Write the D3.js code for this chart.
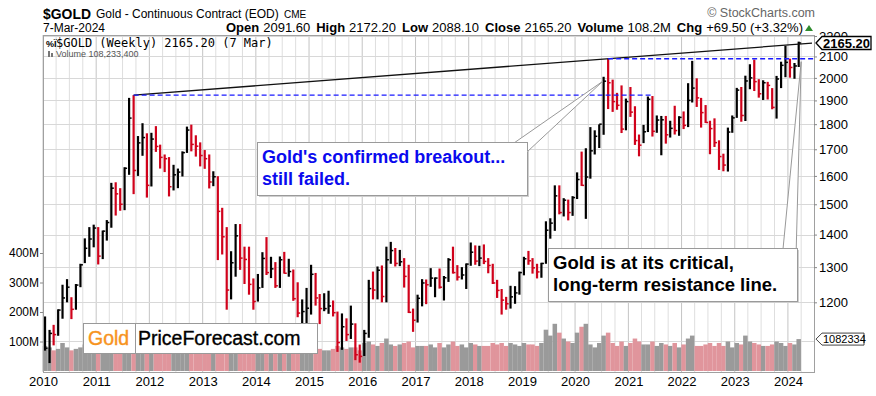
<!DOCTYPE html>
<html>
<head>
<meta charset="utf-8">
<script src="https://cdn.jsdelivr.net/npm/d3@7"></script>
<style>
  body { margin: 0; background: #fff; }
  svg text { font-family: "Liberation Sans", Arial, sans-serif; }
</style>
</head>
<body>
<svg id="chart" width="876" height="396"></svg>
<script>
// monthly bars, Jan 2010 .. Mar 2024 (gold continuous contract)
const firstMonth = [2010, 0];
const monthHigh = [
  1162,1127,1140,1181,1249,1265,1214,1251,1310,1388,1424,1432,
  1424,1413,1447,1575,1577,1556,1632,1911,1923,1752,1804,1763,
  1765,1792,1718,1680,1670,1641,1627,1692,1790,1798,1755,1727,
  1697,1680,1617,1599,1488,1424,1348,1434,1434,1362,1362,1267,
  1280,1345,1392,1331,1315,1332,1346,1325,1293,1256,1208,1240,
  1307,1283,1223,1225,1232,1205,1175,1170,1157,1191,1144,1090,
  1127,1263,1287,1302,1305,1362,1377,1358,1352,1327,1307,1183,
  1221,1265,1264,1297,1270,1296,1274,1327,1362,1306,1300,1311,
  1375,1366,1365,1369,1327,1310,1263,1237,1215,1246,1245,1287,
  1331,1349,1327,1310,1313,1443,1453,1566,1566,1521,1516,1528,
  1613,1691,1704,1788,1775,1799,2005,2089,1992,1933,1966,1908,
  1959,1875,1758,1797,1917,1919,1836,1834,1834,1814,1877,1833,
  1853,1976,2079,1998,1911,1880,1814,1824,1735,1683,1786,1836,
  1955,1959,2010,2063,2085,1994,1989,1982,1954,2009,2075,2152,
  2089,2069,2172
];
const monthLow = [
  1075,1045,1088,1112,1156,1200,1155,1180,1242,1312,1331,1360,
  1308,1324,1381,1422,1462,1478,1480,1604,1535,1600,1675,1523,
  1562,1690,1627,1614,1527,1548,1556,1598,1686,1692,1672,1635,
  1626,1555,1563,1321,1338,1180,1208,1272,1292,1251,1221,1180,
  1202,1240,1277,1268,1240,1240,1281,1272,1204,1160,1131,1142,
  1167,1191,1142,1176,1169,1162,1072,1077,1099,1104,1052,1046,
  1062,1107,1208,1208,1200,1200,1310,1302,1303,1241,1171,1122,
  1146,1189,1195,1243,1214,1238,1205,1257,1281,1261,1264,1237,
  1304,1307,1303,1309,1282,1251,1212,1167,1180,1183,1196,1221,
  1276,1307,1281,1267,1269,1310,1387,1412,1466,1459,1446,1461,
  1518,1564,1451,1590,1680,1705,1757,1863,1851,1860,1764,1775,
  1830,1717,1673,1724,1768,1750,1765,1677,1722,1746,1758,1753,
  1780,1788,1891,1872,1786,1805,1681,1709,1622,1617,1616,1765,
  1826,1810,1813,1949,1941,1912,1902,1904,1862,1823,1954,2003,
  2001,1996,2050
];
const monthClose = [
  1081,1118,1115,1179,1212,1242,1181,1248,1307,1357,1386,1421,
  1333,1411,1439,1556,1536,1500,1628,1825,1620,1725,1746,1566,
  1740,1711,1669,1664,1561,1604,1614,1687,1776,1719,1712,1676,
  1664,1578,1597,1476,1393,1234,1313,1396,1327,1323,1250,1202,
  1240,1326,1284,1295,1246,1322,1282,1287,1210,1171,1175,1184,
  1279,1212,1183,1183,1190,1172,1095,1135,1115,1142,1065,1061,
  1118,1238,1234,1291,1216,1322,1350,1311,1316,1273,1173,1152,
  1211,1254,1249,1268,1268,1242,1269,1322,1284,1271,1277,1309,
  1345,1318,1327,1317,1305,1254,1233,1206,1196,1215,1226,1284,
  1325,1319,1298,1286,1311,1414,1437,1529,1472,1514,1472,1523,
  1587,1566,1596,1694,1751,1800,1985,1978,1895,1879,1780,1895,
  1850,1734,1716,1769,1905,1771,1817,1818,1757,1783,1774,1828,
  1795,1900,1954,1911,1848,1807,1782,1726,1672,1640,1768,1826,
  1945,1836,1986,2000,1983,1929,1978,1966,1870,1995,2058,2072,
  2048,2055,2165.2
];
// average weekly volume in millions
const monthVolume = [
  85,80,70,75,95,80,70,75,80,90,95,70,
  85,75,75,80,90,75,80,110,105,85,80,75,
  80,75,75,70,80,80,70,75,85,80,80,75,
  85,80,80,130,110,120,100,95,90,90,85,80,
  85,85,90,75,70,80,75,65,75,85,85,75,
  85,80,75,70,70,75,85,80,75,80,80,70,
  95,100,90,85,95,110,90,85,90,95,100,80,
  85,85,85,90,80,95,80,90,100,85,90,80,
  95,90,85,85,85,95,90,95,85,95,90,85,
  95,90,90,85,95,140,120,160,130,110,100,95,
  130,150,160,90,80,95,120,130,95,85,100,85,
  95,110,100,90,90,100,85,95,90,85,95,80,
  90,110,120,85,85,90,95,85,95,85,100,80,
  95,90,120,100,95,90,85,85,90,100,95,85,
  95,90,108.2
];
const priceTicks = [1200,1300,1400,1500,1600,1700,1800,1900,2000,2100,2200];
const priceGrid = [1100,1200,1300,1400,1500,1600,1700,1800,1900,2000,2100,2200];
const volumeTicks = [100,200,300,400];

// resistance / breakout levels
const resistancePts = [{ date: new Date(2011, 8, 15), price: 1923 }, { date: new Date(2020, 7, 15), price: 2089 }];
const breakout2011 = { from: new Date(2011, 8, 15), to: new Date(2021, 5, 10), price: 1923 };
const breakout2020 = { from: new Date(2020, 7, 15), price: 2089 };
const lastClose = 2165.20, lastVolume = 108.2;

const data = monthClose.map((c, i) => ({
  date: new Date(firstMonth[0], firstMonth[1] + i, 15),
  high: monthHigh[i], low: monthLow[i], close: c,
  vol: monthVolume[i],
  up: i === 0 ? true : c >= monthClose[i - 1]
}));

const svg = d3.select("#chart");
const L = 43, R = 814, T = 35, B = 372;

const x = d3.scaleTime()
  .domain([new Date(2010, 0, 1), new Date(2024, 5, 28)])
  .range([L, R]);
const y = d3.scaleLog().domain([1024, 2200]).range([B, 36]);
const yVol = d3.scaleLinear().domain([0, 400]).range([371, 253]);

// grid
const grid = svg.append("g");
grid.selectAll(".qline")
  .data(x.ticks(d3.timeMonth.every(3)))
  .enter().append("line")
  .attr("x1", d => x(d)).attr("x2", d => x(d))
  .attr("y1", T).attr("y2", B)
  .attr("stroke", d => d.getMonth() === 0 ? "#c4c4c4" : "#dedede")
  .attr("stroke-width", 1);
grid.selectAll(".hline")
  .data(priceGrid)
  .enter().append("line")
  .attr("x1", L).attr("x2", R)
  .attr("y1", d => Math.round(y(d)) + 0.5).attr("y2", d => Math.round(y(d)) + 0.5)
  .attr("stroke", "#d8d8d8");

// volume bars
const step = x(new Date(2010, 1, 15)) - x(new Date(2010, 0, 15));
svg.append("g").selectAll("rect")
  .data(data)
  .enter().append("rect")
  .attr("x", d => x(d.date) - step / 2)
  .attr("width", step)
  .attr("y", d => yVol(d.vol))
  .attr("height", d => yVol(0) - yVol(d.vol))
  .attr("fill", d => d.up ? "#9a9a9a" : "#e0959c");

// price bars
const bars = svg.append("g");
bars.selectAll(".hl")
  .data(data)
  .enter().append("line")
  .attr("x1", d => x(d.date)).attr("x2", d => x(d.date))
  .attr("y1", d => y(d.high)).attr("y2", d => y(d.low))
  .attr("stroke", d => d.up ? "#000" : "#d0021b")
  .attr("stroke-width", 2.2);
bars.selectAll(".cl")
  .data(data)
  .enter().append("line")
  .attr("x1", d => x(d.date)).attr("x2", d => x(d.date) + 2.5)
  .attr("y1", d => y(d.close)).attr("y2", d => y(d.close))
  .attr("stroke", d => d.up ? "#000" : "#d0021b")
  .attr("stroke-width", 1.5);

// frame
svg.append("rect").attr("x", L + 0.5).attr("y", T + 0.5)
  .attr("width", R - L).attr("height", B - T)
  .attr("fill", "none").attr("stroke", "#a0a0a0");

// axes
const yearTicks = d3.timeYear.range(new Date(2010, 0, 1), new Date(2024, 1, 1));
svg.append("g").attr("transform", `translate(0,${B})`)
  .call(d3.axisBottom(x).tickValues(yearTicks).tickFormat(d3.timeFormat("%Y")).tickSize(0).tickPadding(5))
  .call(g => g.select(".domain").remove())
  .selectAll("text").attr("font-size", 13).attr("fill", "#000")
  .style("font-family", "Liberation Sans, Arial, sans-serif");

svg.append("g").attr("transform", `translate(${R},0)`)
  .call(d3.axisRight(y).tickValues(priceTicks).tickFormat(d3.format("d")).tickSize(3).tickPadding(2))
  .call(g => g.select(".domain").remove())
  .call(g => g.selectAll("line").attr("stroke", "#888"))
  .selectAll("text").attr("font-size", 13).attr("fill", "#000")
  .style("font-family", "Liberation Sans, Arial, sans-serif");

svg.append("g").attr("transform", `translate(${L},0)`)
  .call(d3.axisLeft(yVol).tickValues(volumeTicks).tickFormat(d => d + "M").tickSize(3).tickPadding(1))
  .call(g => g.select(".domain").remove())
  .call(g => g.selectAll("line").attr("stroke", "#888"))
  .selectAll("text").attr("font-size", 12).attr("fill", "#000")
  .style("font-family", "Liberation Sans, Arial, sans-serif");

// resistance line, extended to the right edge
const p0 = [x(resistancePts[0].date), y(resistancePts[0].price)];
const p1 = [x(resistancePts[1].date), y(resistancePts[1].price)];
const slope = (p1[1] - p0[1]) / (p1[0] - p0[0]);
svg.append("line")
  .attr("x1", p0[0]).attr("y1", p0[1])
  .attr("x2", R - 2).attr("y2", p0[1] + slope * (R - 2 - p0[0]))
  .attr("stroke", "#111").attr("stroke-width", 1.3);

svg.append("line")
  .attr("x1", x(breakout2011.from)).attr("x2", x(breakout2011.to))
  .attr("y1", y(breakout2011.price)).attr("y2", y(breakout2011.price))
  .attr("stroke", "#1a1aff").attr("stroke-width", 1.3).attr("stroke-dasharray", "5,3");
svg.append("line")
  .attr("x1", x(breakout2020.from)).attr("x2", R)
  .attr("y1", y(breakout2020.price)).attr("y2", y(breakout2020.price))
  .attr("stroke", "#1a1aff").attr("stroke-width", 1.3).attr("stroke-dasharray", "5,3");

// callout boxes
function callout(box, base, apex, lines, color, size) {
  const g = svg.append("g");
  g.append("rect").attr("x", box[0] + 2).attr("y", box[1] + 2)
    .attr("width", box[2] - box[0]).attr("height", box[3] - box[1]).attr("fill", "#cfcfcf");
  g.append("path")
    .attr("d", `M${base[0][0]},${base[0][1]}L${apex[0]},${apex[1]}L${base[1][0]},${base[1][1]}`)
    .attr("fill", "#fff").attr("stroke", "#999").attr("stroke-width", 1);
  g.append("rect").attr("x", box[0] + 0.5).attr("y", box[1] + 0.5)
    .attr("width", box[2] - box[0]).attr("height", box[3] - box[1])
    .attr("fill", "#fff").attr("stroke", "#9a9a9a");
  g.append("path")
    .attr("d", `M${base[0][0] - 1},${base[0][1] + 1}L${base[1][0]},${base[1][1]}`)
    .attr("stroke", "#fff").attr("stroke-width", 2);
  lines.forEach((t, i) => {
    g.append("text").attr("x", box[0] + 5).attr("y", box[1] + 21 + i * 22)
      .attr("font-size", size).attr("font-weight", "bold").attr("fill", color).text(t);
  });
}
const anchor1 = [x(new Date(2020, 6, 10)), y(1985)];
const anchor2 = [x(new Date(2024, 3, 1)), y(2075)];
callout([257, 142, 527, 195], [[514, 143], [527, 152]], anchor1,
  ["Gold's confirmed breakout...", "still failed."], "#0a0aee", 18);
callout([548, 248, 797, 301], [[783, 249], [796, 257]], anchor2,
  ["Gold is at its critical,", "long-term resistance line."], "#000", 18.5);

// logo
const logo = svg.append("g");
logo.append("rect").attr("x", 83.5).attr("y", 323.5).attr("width", 234).attr("height", 30)
  .attr("fill", "#fff").attr("stroke", "#999");
logo.append("line").attr("x1", 135.5).attr("x2", 135.5).attr("y1", 323.5).attr("y2", 353.5).attr("stroke", "#999");
logo.append("text").attr("x", 88).attr("y", 345).attr("font-size", 19.5).attr("fill", "#f7931e")
  .attr("stroke", "#f7931e").attr("stroke-width", 0.4).text("Gold");
logo.append("text").attr("x", 138).attr("y", 345).attr("font-size", 19.5).attr("fill", "#000")
  .attr("stroke", "#000").attr("stroke-width", 0.35).text("PriceForecast.com");

// last value labels on the right axis
const yl = y(lastClose);
svg.append("path")
  .attr("d", `M${R + 2},${yl}L${R + 8},${yl - 6.5}H871V${yl + 6.5}H${R + 8}Z`)
  .attr("fill", "#fff").attr("stroke", "#000").attr("stroke-width", 1.3);
svg.append("text").attr("x", R + 9).attr("y", yl + 4.5).attr("font-size", 13).attr("font-weight", "bold").text("2165.20");
const yv = yVol(lastVolume);
svg.append("path")
  .attr("d", `M${R + 2},${yv}L${R + 8},${yv - 6}H864V${yv + 6}H${R + 8}Z`)
  .attr("fill", "#fff").attr("stroke", "#444");
svg.append("text").attr("x", R + 9).attr("y", yv + 4).attr("font-size", 11).text("1082334");

// header
svg.append("text").attr("x", 43).attr("y", 19).attr("font-size", 15.5).attr("font-weight", "bold")
  .attr("textLength", 48).attr("lengthAdjust", "spacingAndGlyphs").text("$GOLD");
svg.append("text").attr("x", 96).attr("y", 18).attr("font-size", 12).text("Gold - Continuous Contract (EOD)");
svg.append("text").attr("x", 284).attr("y", 18).attr("font-size", 10).text("CME");
svg.append("text").attr("x", 815).attr("y", 17).attr("font-size", 12.5).attr("fill", "#666")
  .attr("text-anchor", "end").text("\u00A9 StockCharts.com");
svg.append("text").attr("x", 43).attr("y", 32).attr("font-size", 12).text("7-Mar-2024");
const quote = svg.append("text").attr("x", 803).attr("y", 32).attr("font-size", 13).attr("text-anchor", "end");
[["Open", "2091.60"], ["High", "2172.20"], ["Low", "2088.10"], ["Close", "2165.20"], ["Volume", "108.2M"], ["Chg", "+69.50 (+3.32%)"]]
  .forEach(([k, v], i) => {
    quote.append("tspan").attr("font-weight", "bold").attr("dx", i ? 6 : 0).text(k);
    quote.append("tspan").attr("dx", 4).text(v);
  });
svg.append("path").attr("d", "M805,31L809,25L813,31Z").attr("fill", "#2e8b2e");

// legend inside plot
svg.append("text").attr("x", 46).attr("y", 47).attr("font-size", 9).attr("font-weight", "bold").text("%\u0407");
svg.append("text").attr("x", 56).attr("y", 47).attr("font-size", 12)
  .style("font-family", "DejaVu Sans Mono, monospace").text("$GOLD (Weekly) 2165.20 (7 Mar)");
svg.append("rect").attr("x", 48).attr("y", 51).attr("width", 2).attr("height", 6).attr("fill", "#777");
svg.append("rect").attr("x", 51).attr("y", 53).attr("width", 2).attr("height", 4).attr("fill", "#777");
svg.append("text").attr("x", 56).attr("y", 57).attr("font-size", 9).attr("fill", "#555").text("Volume 108,233,400");
</script>
</body>
</html>
